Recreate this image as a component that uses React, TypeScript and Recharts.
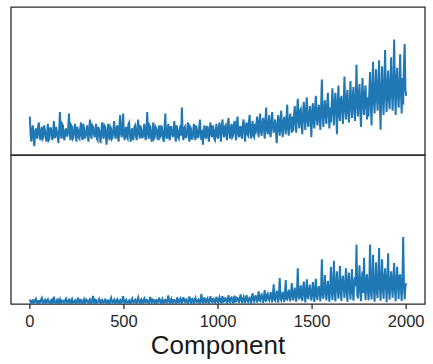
import React from "react";
import { LineChart, Line, XAxis, YAxis, ReferenceArea } from "recharts";

// sampling step along the component axis (every 4th component)
const STEP = 4;

// upper panel values (arbitrary units, 0..100 frame)
const topValues = [
  26, 14, 9, 17, 20, 12, 6, 15, 18, 13, 11, 19, 22, 14, 10, 16, 19, 11, 12, 20, 17, 13, 9, 15, 21, 10, 11, 18, 18, 14, 10, 16, 23, 12, 12, 19, 16, 13, 8, 17, 29, 15, 11, 21, 20, 12, 10, 16, 18, 13,
  13, 18, 28, 15, 10, 20, 19, 11, 12, 17, 21, 14, 9, 19, 17, 12, 11, 18, 22, 13, 10, 21, 18, 11, 13, 16, 20, 12, 9, 19, 24, 14, 11, 20, 19, 15, 12, 17, 21, 11, 10, 19, 17, 13, 8, 16, 22, 14, 11, 20,
  19, 12, 7, 16, 21, 13, 10, 19, 18, 11, 12, 17, 23, 14, 11, 18, 20, 12, 9, 20, 27, 15, 12, 19, 28, 13, 10, 17, 19, 12, 11, 21, 22, 14, 9, 16, 18, 10, 12, 19, 20, 13, 10, 18, 24, 15, 11, 20, 17, 12,
  12, 17, 21, 13, 10, 18, 29, 14, 11, 20, 19, 12, 9, 16, 22, 11, 12, 19, 18, 14, 10, 17, 20, 12, 13, 20, 17, 11, 9, 18, 28, 13, 11, 16, 21, 12, 10, 19, 19, 14, 12, 17, 23, 13, 9, 20, 18, 12, 11, 16,
  20, 13, 32, 15, 10, 18, 19, 12, 12, 17, 22, 14, 9, 19, 18, 11, 11, 16, 21, 13, 10, 20, 17, 12, 12, 18, 24, 14, 10, 17, 7, 15, 20, 13, 11, 19, 19, 12, 9, 18, 22, 14, 12, 20, 18, 11, 10, 17, 21, 13,
  11, 18, 22, 14, 9, 20, 24, 15, 12, 19, 20, 13, 10, 21, 25, 16, 11, 18, 21, 12, 13, 20, 23, 15, 10, 22, 26, 14, 12, 19, 19, 13, 11, 21, 24, 16, 9, 20, 22, 14, 13, 22, 27, 15, 11, 19, 23, 13, 12, 21,
  14, 21, 26, 17, 12, 23, 28, 16, 13, 22, 25, 18, 11, 24, 32, 17, 14, 20, 27, 15, 12, 23, 29, 19, 15, 21, 24, 16, 8, 20, 27, 18, 13, 24, 30, 17, 12, 22, 26, 19, 14, 25, 34, 18, 13, 23, 28, 20, 15, 26,
  16, 27, 33, 22, 15, 29, 38, 24, 18, 30, 31, 21, 14, 28, 36, 25, 17, 31, 39, 23, 19, 27, 33, 26, 12, 29, 35, 22, 18, 32, 40, 25, 20, 30, 34, 24, 17, 33, 51, 27, 19, 31, 37, 26, 21, 34, 42, 28, 18, 32,
  22, 34, 45, 29, 20, 36, 42, 31, 14, 33, 47, 28, 23, 37, 40, 30, 21, 35, 53, 32, 24, 38, 44, 29, 22, 36, 50, 33, 25, 39, 46, 31, 23, 37, 61, 34, 26, 40, 48, 30, 19, 38, 52, 35, 27, 41, 47, 33, 24, 39,
  26, 42, 56, 36, 20, 45, 63, 38, 28, 44, 58, 40, 30, 47, 64, 37, 17, 43, 60, 39, 27, 48, 71, 41, 29, 46, 57, 38, 31, 49, 66, 42, 30, 47, 78, 44, 27, 50, 59, 40, 32, 48, 68, 43, 28, 52, 34, 60, 75, 44,
  40,
];

// lower panel values (arbitrary units, 0..100 frame)
const bottomValues = [
  3, 1.5, 0.5, 2.2, 2.5, 0.8, 1, 2.7, 3.5, 1.3, 0.3, 1.9, 2, 0.6, 1.2, 3, 4, 1.4, 0.6, 2.1, 2.8, 0.9, 0.2, 2.5, 3.2, 1.7, 1, 0.5, 2.4, 2.9, 0.4, 1.2, 5, 2, 0.8, 0.7, 2.6, 3.1, 0.3, 1.6, 3, 0.4, 1.1, 2.4, 2.2, 1.1, 0.5, 2.6, 3.6, 1.8,
  0.7, 2, 2.9, 1.3, 0.2, 2.6, 3.4, 0.9, 1, 1.8, 2.5, 0.6, 0.4, 2.3, 4.2, 1.5, 0.9, 2.8, 2.7, 1, 0.3, 1.9, 3.1, 0.7, 1.2, 3, 2.3, 1.4, 0.5, 2.2, 3.8, 0.5, 0.8, 2.5, 5.5, 1.2, 0.4, 2.9, 2.6, 0.8, 1, 2.1, 3.3, 1.6, 0.2, 2.4, 2.8, 1.1, 0.9, 1.7,
  3.5, 1.2, 0.6, 2.3, 2.4, 0.9, 0.3, 2.8, 4.1, 1.5, 1, 2, 2.9, 0.7, 0.5, 2.6, 3.2, 1.3, 0.2, 2.2, 2.7, 0.8, 1.1, 3, 5.2, 1.6, 0.4, 2.4, 3, 1, 0.8, 1.9, 2.5, 0.6, 0.3, 2.7, 3.7, 1.4, 1, 2.1, 2.8, 1.1, 0.5, 2.9, 4.4, 1.7, 0.7, 2.3, 3.1, 0.9,
  0.4, 2.4, 3.6, 1.4, 1.2, 2.9, 2.6, 1, 0.3, 2.2, 4.8, 1.7, 0.9, 3.1, 3, 1.2, 0.5, 2.5, 2.7, 0.8, 1.1, 2.8, 4.3, 1.5, 0.6, 2.1, 3.3, 0.9, 0.2, 2.6, 2.9, 1.3, 1, 3, 5.8, 1.9, 0.5, 2.3, 3.4, 1.1, 0.8, 2.7, 2.8, 1.6, 0.3, 2.4, 4.5, 1.2, 1, 2.8,
  3.7, 1.5, 0.6, 2.7, 4.6, 1.9, 1.3, 3, 3.2, 1.1, 0.4, 2.6, 5.1, 1.7, 0.9, 3.2, 3.5, 1.3, 0.5, 2.9, 4.2, 1.6, 1.2, 2.5, 3, 1, 0.3, 3.3, 6.7, 1.8, 0.8, 2.8, 4.5, 1.4, 1, 3.1, 3.9, 1.2, 0.5, 2.7, 5.3, 2, 1.4, 3.4, 3.6, 1.5, 0.6, 2.9, 4.8, 1.9,
  1, 3.1, 4.5, 2, 0.5, 3.5, 5.2, 1.4, 1.6, 3.8, 3.8, 2.2, 0.7, 3.3, 6, 1.8, 1.2, 4, 4.4, 2.5, 0.4, 3.6, 5.6, 1.6, 1.8, 4.2, 3.9, 2.3, 0.8, 3.9, 6.4, 2.7, 1.3, 3.4, 4.7, 1.9, 0.6, 4.4, 5.9, 2.6, 1.5, 3.7, 4.2, 2.1, 0.9, 4.6, 7.2, 2.9, 1.7, 4.1,
  5.8, 3.2, 1, 4.8, 8.5, 2.6, 2, 5.5, 6.3, 3.9, 0.8, 4.4, 9.4, 2.9, 1.6, 6.1, 7, 3.5, 2.4, 5.2, 8, 4.1, 1.1, 6.6, 13.2, 3, 2.2, 5.8, 9, 4.6, 0.9, 6.9, 17.5, 3.7, 2.5, 5.4, 8.2, 4.3, 1.3, 7.2, 16, 3.4, 3, 6.3, 9.6, 4.9, 1.8, 7.6, 14, 5.1,
  2.5, 7.4, 11, 5.1, 1.5, 9.2, 24, 6, 3, 8.3, 12.5, 4.7, 2, 10.1, 15, 6.8, 1, 8.8, 16.5, 5.5, 3.2, 9.6, 13, 7.2, 2.2, 8, 14.8, 6.3, 1.4, 10.5, 17, 5.8, 2.8, 9.3, 12, 7.7, 1.8, 11, 30, 6.5, 3.5, 9.9, 19.5, 8.1, 2.4, 10.8, 15.5, 7, 1.6, 11.4,
  25, 9.5, 2.8, 13, 29, 7.8, 1.7, 14.5, 22, 10.2, 3.6, 12.1, 25.5, 8.6, 2, 15.3, 19, 11.4, 4, 13.8, 24, 9, 1.5, 16, 21, 10.7, 3, 12.6, 23.5, 8.3, 2.2, 14.9, 18, 11.8, 40, 6.5, 3.8, 13.4, 26, 9.8, 1.9, 15.7, 22, 7.4, 31, 12.9, 2.6, 14.2, 20, 10.4,
  2.4, 13.6, 40, 9.2, 3.1, 16.4, 33, 11, 1.5, 14.8, 28, 8.7, 4, 17.2, 37.5, 12.3, 2.2, 15.5, 30, 10.1, 3.5, 18, 24, 13.1, 1.2, 16.8, 34, 9.6, 2.9, 14.3, 22, 11.9, 4.2, 17.6, 27.5, 10.5, 1.8, 15.1, 25, 12.7, 3.3, 18.4, 20, 9.9, 2, 16.2, 45, 13.5, 3, 12,
  14,
];

const xTicks = [0, 500, 1000, 1500, 2000];
const xDomain = [-100, 2100];
const yDomain = [0, 100];
const xLabel = "Component";

const topData = topValues.map((v, i) => ({ component: i * STEP, value: v }));
const bottomData = bottomValues.map((v, i) => ({ component: i * STEP, value: v }));

const W = 433;
const H = 364;
const FRAME = "#262626";
const BLUE = "#1f77b4";
const FONT = "'Liberation Sans', Arial, sans-serif";

export default function App() {
  return (
    <div style={{ position: "absolute", left: 0, top: 0, width: W, height: H, background: "#fff", fontFamily: FONT }}>
      <div style={{ position: "absolute", left: 0, top: 0 }}>
        <LineChart width={W} height={H} data={topData} margin={{ top: 7, right: 8, left: 11, bottom: H - 155 }}>
          <XAxis dataKey="component" type="number" domain={xDomain} hide allowDataOverflow />
          <YAxis type="number" domain={yDomain} hide allowDataOverflow />
          <Line type="linear" dataKey="value" stroke={BLUE} strokeWidth={2} dot={false} isAnimationActive={false} />
          <ReferenceArea x1={xDomain[0]} x2={xDomain[1]} y1={yDomain[0]} y2={yDomain[1]} fill="none" fillOpacity={0} stroke={FRAME} strokeWidth={1.25} strokeOpacity={1} />
        </LineChart>
      </div>
      <div style={{ position: "absolute", left: 0, top: 0 }}>
        <LineChart width={W} height={H} data={bottomData} margin={{ top: 155, right: 8, left: 11, bottom: 0 }}>
          <XAxis
            dataKey="component"
            type="number"
            domain={xDomain}
            ticks={xTicks}
            allowDataOverflow
            axisLine={false}
            tickSize={5}
            tickMargin={6}
            height={60}
            tickLine={{ stroke: FRAME, strokeWidth: 1.25 }}
            tick={{ fontSize: 16.5, fill: "#262626", fontFamily: FONT }}
            label={{ value: xLabel, position: "insideBottom", offset: 10, fontSize: 26, fill: "#1a1a1a", fontFamily: FONT }}
          />
          <YAxis type="number" domain={yDomain} hide allowDataOverflow />
          <Line type="linear" dataKey="value" stroke={BLUE} strokeWidth={2} dot={false} isAnimationActive={false} />
          <ReferenceArea x1={xDomain[0]} x2={xDomain[1]} y1={yDomain[0]} y2={yDomain[1]} fill="none" fillOpacity={0} stroke={FRAME} strokeWidth={1.25} strokeOpacity={1} />
        </LineChart>
      </div>
    </div>
  );
}
